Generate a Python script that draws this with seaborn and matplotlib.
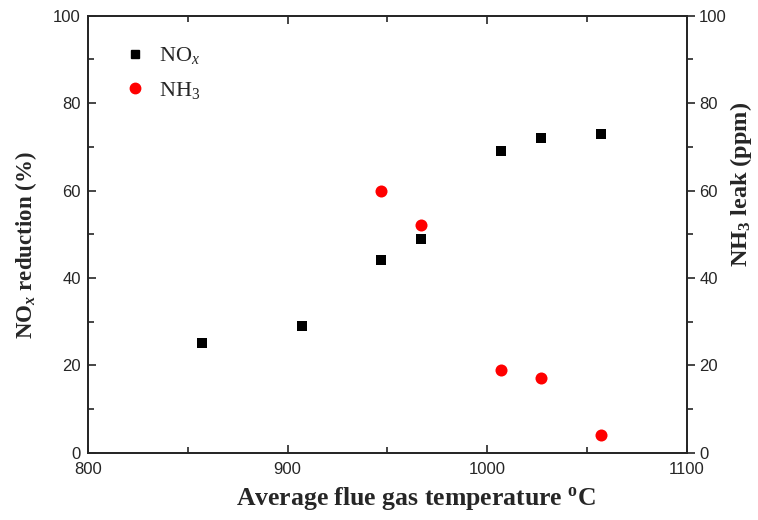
import matplotlib
matplotlib.use("Agg")
import matplotlib.pyplot as plt
from matplotlib.ticker import MultipleLocator
from matplotlib.lines import Line2D
import pandas as pd
import seaborn as sns

# data
nox_temp = [857, 907, 947, 967, 1007, 1027, 1057]
nox_reduction = [25, 29, 44, 49, 69, 72, 73]
nh3_temp = [947, 967, 1007, 1027, 1057]
nh3_leak = [60, 52, 19, 17, 4]

sns.set_style("ticks")
plt.rcParams["font.family"] = ["Liberation Serif", "DejaVu Serif"]
plt.rcParams["mathtext.fontset"] = "custom"
plt.rcParams["mathtext.rm"] = "Liberation Serif"
plt.rcParams["mathtext.it"] = "Liberation Serif:italic"
plt.rcParams["mathtext.bf"] = "Liberation Serif:bold"
plt.rcParams["mathtext.sf"] = "Liberation Serif:italic:bold"

nox = pd.DataFrame({"temp": nox_temp, "val": nox_reduction})
nh3 = pd.DataFrame({"temp": nh3_temp, "val": nh3_leak})

fig = plt.figure(figsize=(7.58, 5.2), dpi=100)
ax = fig.add_axes([0.116, 0.1294, 0.790, 0.8404])
ax2 = ax.twinx()

sns.scatterplot(data=nox, x="temp", y="val", ax=ax, marker="s", s=55, color="black", linewidth=0)
sns.scatterplot(data=nh3, x="temp", y="val", ax=ax2, marker="o", s=75, color="#ff0000", linewidth=0)

ax.set_xlim(800, 1100)
ax.set_ylim(0, 100)
ax2.set_ylim(0, 100)
ax.xaxis.set_major_locator(MultipleLocator(100))
ax.xaxis.set_minor_locator(MultipleLocator(50))
ax.yaxis.set_major_locator(MultipleLocator(20))
ax.yaxis.set_minor_locator(MultipleLocator(10))
ax2.yaxis.set_major_locator(MultipleLocator(20))
ax2.yaxis.set_minor_locator(MultipleLocator(10))

ax.tick_params(which="both", direction="in", top=True, right=False, width=1.2, labelsize=12)
ax.tick_params(which="major", length=6)
ax.tick_params(which="minor", length=4)
ax.tick_params(axis="x", pad=7)
ax.tick_params(axis="y", pad=5)
ax2.tick_params(which="both", direction="out", width=1.2, labelsize=12, pad=3)
ax2.tick_params(which="major", length=6)
ax2.tick_params(which="minor", length=4)
for a in (ax, ax2):
    for sp in a.spines.values():
        sp.set_linewidth(1.3)
        sp.set_visible(True)
    for lab in a.get_xticklabels() + a.get_yticklabels():
        lab.set_fontfamily("Liberation Sans")

ax.set_xlabel(r"Average flue gas temperature $^{\mathbf{o}}$C", fontsize=18.5, fontweight="bold")
ax.set_ylabel(r"NO$_{\mathsf{x}}$ reduction (%)", fontsize=16.5, fontweight="bold")
ax2.set_ylabel(r"NH$_{\mathbf{3}}$ leak (ppm)", fontsize=17.5, fontweight="bold")
ax.xaxis.set_label_coords(0.548, -0.104)
ax.yaxis.set_label_coords(-0.103, 0.475)
ax2.yaxis.set_label_coords(1.090, 0.613)
for lbl in (ax.xaxis.label, ax.yaxis.label, ax2.yaxis.label):
    lbl.set_va("center")
    lbl.set_ha("center")

handles = [
    Line2D([], [], marker="s", color="black", linestyle="none", markersize=6),
    Line2D([], [], marker="o", color="#ff0000", linestyle="none", markersize=7.5),
]
ax.legend(handles, [r"NO$_{x}$", r"NH$_{3}$"], loc="upper left", bbox_to_anchor=(0.017, 0.978),
          frameon=False, fontsize=16, handletextpad=0.35, labelspacing=0.62, handlelength=1.5)

plt.savefig("out.png", dpi=100)
plt.close()
